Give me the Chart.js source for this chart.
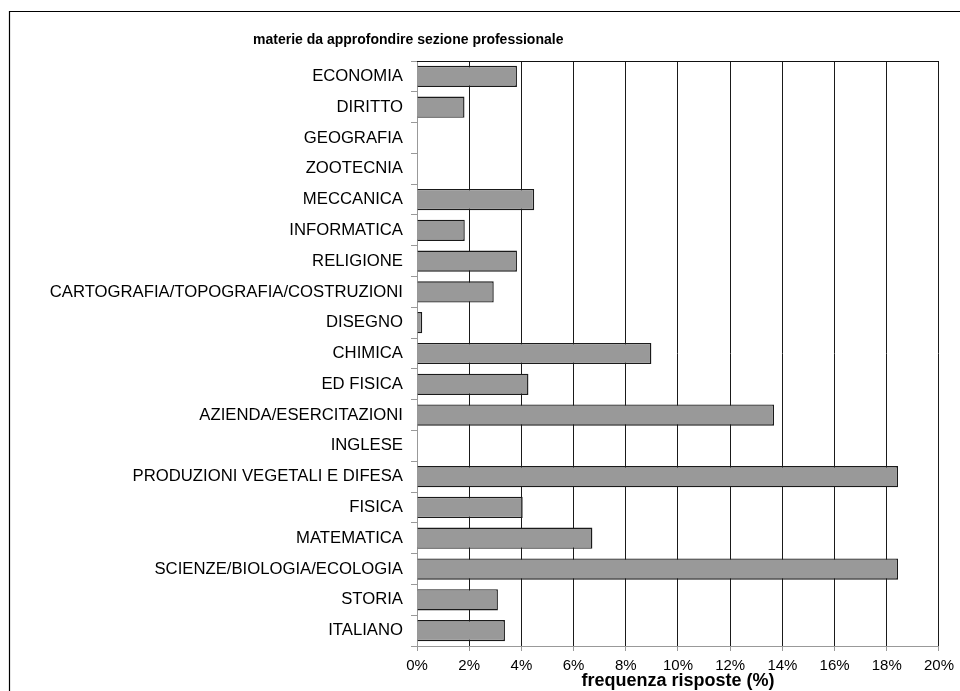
<!DOCTYPE html>
<html>
<head>
<meta charset="utf-8">
<script src="https://cdn.jsdelivr.net/npm/chart.js@4"></script>
<style>
  body { margin: 0; background: #fff; }
  #wrap { width: 960px; height: 691px; }
</style>
</head>
<body>
<div id="wrap"><canvas id="myChart" width="960" height="691"></canvas></div>
<script>
const chartTitle = 'materie da approfondire sezione professionale';
const axisTitle = 'frequenza risposte (%)';

const subjects = [
    'ECONOMIA', 'DIRITTO', 'GEOGRAFIA', 'ZOOTECNIA', 'MECCANICA', 'INFORMATICA',
    'RELIGIONE', 'CARTOGRAFIA/TOPOGRAFIA/COSTRUZIONI', 'DISEGNO', 'CHIMICA',
    'ED FISICA', 'AZIENDA/ESERCITAZIONI', 'INGLESE', 'PRODUZIONI VEGETALI E DIFESA',
    'FISICA', 'MATEMATICA', 'SCIENZE/BIOLOGIA/ECOLOGIA', 'STORIA', 'ITALIANO'
];
const frequencies = [
    3.83, 1.82, 0, 0, 4.49, 1.83,
    3.83, 2.94, 0.2, 8.98,
    4.27, 13.68, 0, 18.43,
    4.05, 6.72, 18.43, 3.10, 3.37
];
const xTicksMin = 0;
const xTicksMax = 20;
const xTicksStep = 2;

const fontFamily = "'Liberation Sans', Arial, sans-serif";

// outer frame + title, drawn by hand like the excel chart area
const framePlugin = {
    id: 'frame',
    beforeDraw(chart) {
        const ctx = chart.ctx;
        ctx.save();
        ctx.fillStyle = '#fff';
        ctx.fillRect(0, 0, chart.width, chart.height);
        ctx.strokeStyle = '#000';
        ctx.lineWidth = 1.2;
        ctx.beginPath();
        ctx.moveTo(9.5, chart.height + 2);
        ctx.lineTo(9.5, 11.5);
        ctx.lineTo(chart.width + 2, 11.5);
        ctx.stroke();

        ctx.fillStyle = '#000';
        ctx.font = 'bold 14px ' + fontFamily;
        ctx.textAlign = 'left';
        ctx.textBaseline = 'middle';
        ctx.fillText(chartTitle, 253, 40);
        ctx.restore();
    },
    afterDraw(chart) {
        const a = chart.chartArea;
        const ctx = chart.ctx;
        ctx.save();
        ctx.strokeStyle = '#111';
        ctx.lineWidth = 1;
        ctx.beginPath();
        ctx.moveTo(a.left, Math.round(a.top) + 0.5);
        ctx.lineTo(a.right, Math.round(a.top) + 0.5);
        ctx.stroke();
        ctx.restore();
    }
};

const ctx = document.getElementById('myChart').getContext('2d');
const chart = new Chart(ctx, {
    type: 'bar',
    data: {
        labels: subjects,
        datasets: [{
            data: frequencies,
            backgroundColor: '#999999',
            borderColor: '#1a1a1a',
            borderWidth: 1.4,
            barPercentage: 0.69,
            categoryPercentage: 1
        }]
    },
    options: {
        indexAxis: 'y',
        responsive: false,
        animation: false,
        layout: { padding: { top: 61, right: 16, bottom: 0, left: 0 } },
        plugins: {
            legend: { display: false },
            tooltip: { enabled: false }
        },
        scales: {
            x: {
                type: 'linear',
                min: xTicksMin,
                max: xTicksMax,
                afterFit(scale) { scale.height = 45; },
                ticks: {
                    stepSize: xTicksStep,
                    color: '#000',
                    padding: 6,
                    maxRotation: 0,
                    font: { family: fontFamily, size: 15 },
                    callback: v => v + '%'
                },
                grid: {
                    color: c => c.index === 0 ? 'rgba(0,0,0,0)' : '#1a1a1a',
                    lineWidth: 1,
                    drawTicks: true,
                    tickLength: 5,
                    tickColor: '#999'
                },
                border: { display: true, color: '#999', width: 1 },
                title: {
                    display: true,
                    text: axisTitle,
                    color: '#000',
                    padding: { top: 0, bottom: -1 },
                    font: { family: fontFamily, size: 18, weight: 'bold' }
                }
            },
            y: {
                afterFit(scale) { scale.width = 417; },
                ticks: {
                    autoSkip: false,
                    color: '#000',
                    padding: 8,
                    font: { family: fontFamily, size: 16.7 }
                },
                grid: {
                    offset: true,
                    drawOnChartArea: false,
                    drawTicks: true,
                    tickLength: 6,
                    tickColor: '#999'
                },
                border: { display: true, color: '#999', width: 1 }
            }
        }
    },
    plugins: [framePlugin]
});
</script>
</body>
</html>
